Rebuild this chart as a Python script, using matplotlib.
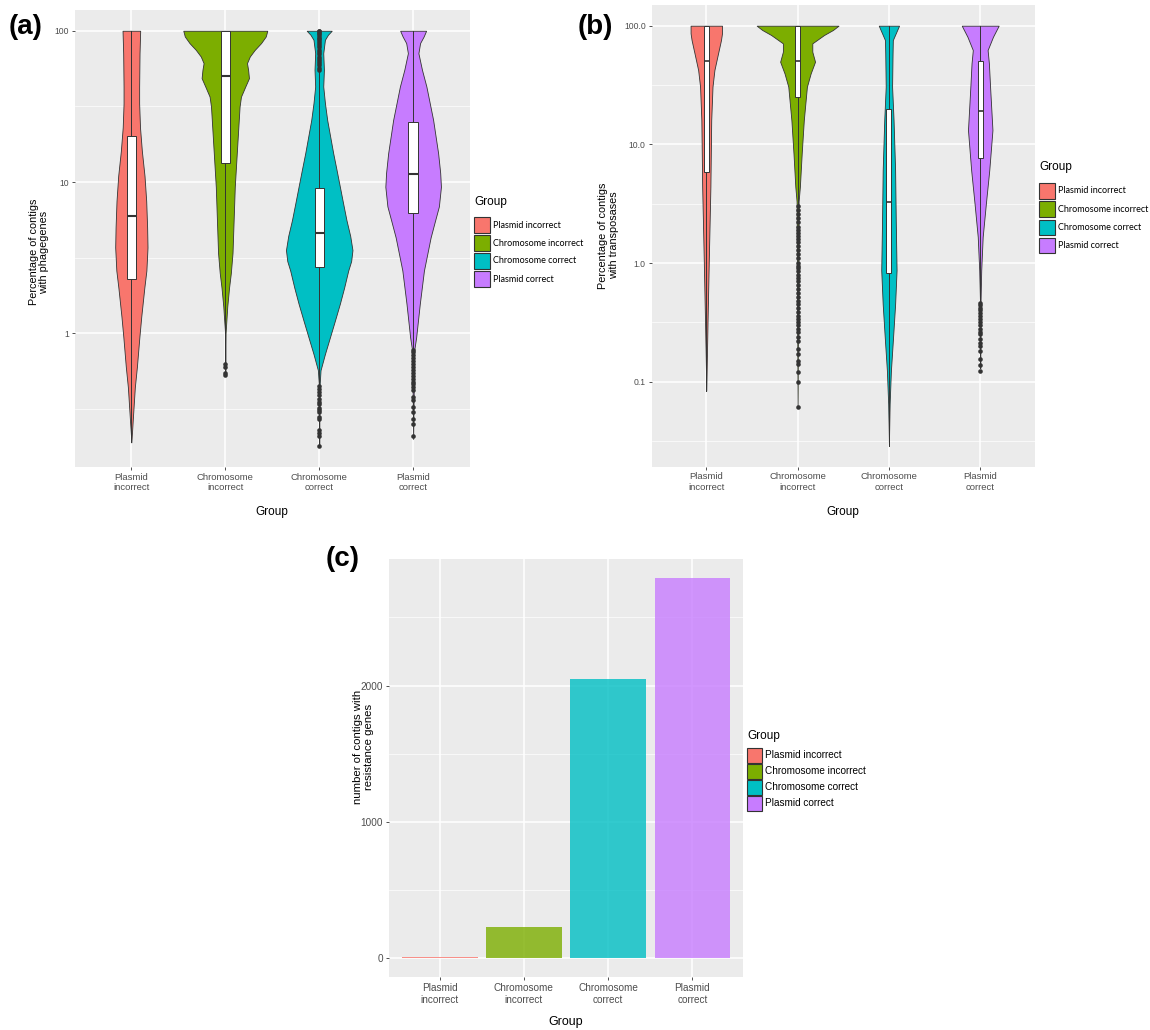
import numpy as np
import matplotlib
matplotlib.use('Agg')
import matplotlib.pyplot as plt
from matplotlib.patches import Rectangle
from matplotlib.ticker import FixedLocator, NullFormatter

plt.rcParams['font.family'] = ['Liberation Sans', 'DejaVu Sans']

# ---------------- data ----------------
groups = ['Plasmid incorrect', 'Chromosome incorrect', 'Chromosome correct', 'Plasmid correct']
tick_labels = ['Plasmid\nincorrect', 'Chromosome\nincorrect', 'Chromosome\ncorrect', 'Plasmid\ncorrect']
colors = ['#F8766D', '#7CAE00', '#00BFC4', '#C77CFF']

# (a) phage genes: violin outline (percentage, half width in group units)
phage_pi_y = [100, 71, 42.7, 33, 23, 16, 11, 7.5, 5, 3.7, 2.6, 2.0, 1.3, 0.94, 0.6, 0.44, 0.3, 0.19]
phage_pi_w = [0.094, 0.087, 0.083, 0.083, 0.092, 0.112, 0.140, 0.158, 0.168, 0.172, 0.160, 0.138, 0.106, 0.085, 0.059, 0.037, 0.020, 0.0]
phage_ci_y = [100, 91.7, 82.9, 74.8, 67.6, 61.1, 55.2, 48.6, 42.8, 36.7, 31.5, 20, 9.3, 3.4, 2.5, 2.0, 1.5, 1.2, 1.0, 0.53]
phage_ci_w = [0.447, 0.431, 0.381, 0.314, 0.261, 0.231, 0.243, 0.252, 0.213, 0.167, 0.152, 0.133, 0.101, 0.077, 0.059, 0.040, 0.021, 0.011, 0.003, 0.0]
phage_cc_y = [100, 94.1, 87.2, 71.1, 55.2, 42.8, 33.2, 25.7, 15.5, 12, 9.3, 7.2, 5.6, 4.4, 3.55, 3.0, 2.6, 2.0, 1.57, 1.2, 0.94, 0.73, 0.57, 0.44, 0.18]
phage_cc_w = [0.133, 0.093, 0.061, 0.043, 0.050, 0.043, 0.061, 0.085, 0.149, 0.185, 0.220, 0.255, 0.290, 0.330, 0.354, 0.340, 0.309, 0.265, 0.220, 0.165, 0.114, 0.061, 0.014, 0.003, 0.0]
phage_pc_y = [100, 91.7, 82.9, 71.1, 55.2, 42.8, 25.7, 15.5, 11.5, 9.3, 6.9, 5.4, 4.3, 2.6, 1.57, 0.94, 0.77, 0.2]
phage_pc_w = [0.138, 0.112, 0.074, 0.056, 0.094, 0.141, 0.213, 0.266, 0.288, 0.296, 0.274, 0.228, 0.186, 0.115, 0.071, 0.032, 0.011, 0.0]

# box stats: q1, median, q3, lower whisker, upper whisker
phage_box = [[2.3, 6.0, 20, 0.19, 100],
             [13.3, 50, 100, 0.68, 100],
             [2.76, 4.57, 9.1, 0.46, 54],
             [6.27, 11.3, 24.8, 0.79, 100]]
phage_out_ci = [0.63, 0.60, 0.55, 0.53]
phage_out_cc = [55, 57, 59, 61, 63, 65, 67, 70, 72, 75, 78, 80, 83, 86, 88, 90, 92, 95, 97, 99, 100,
                0.45, 0.43, 0.41, 0.39, 0.37, 0.35, 0.34, 0.32, 0.31, 0.30, 0.28, 0.27, 0.23, 0.22, 0.21, 0.18]
phage_out_pc = [0.78, 0.75, 0.72, 0.69, 0.66, 0.63, 0.60, 0.57, 0.55, 0.52, 0.50, 0.48, 0.46, 0.44,
                0.42, 0.38, 0.36, 0.325, 0.30, 0.27, 0.25, 0.21]

# (b) transposases
tn_pi_y = [100, 86.3, 75.7, 58.5, 42.3, 30.6, 16, 4.4, 1.2, 0.33, 0.084]
tn_pi_w = [0.172, 0.172, 0.161, 0.129, 0.089, 0.068, 0.054, 0.045, 0.029, 0.014, 0.0]
tn_ci_y = [100, 92, 83.5, 71, 60.4, 49.7, 39.6, 30.6, 16, 8.4, 4.4, 3.3, 0.061]
tn_ci_w = [0.448, 0.387, 0.290, 0.161, 0.161, 0.191, 0.143, 0.102, 0.068, 0.045, 0.025, 0.011, 0.0]
tn_cc_y = [100, 86.3, 75.7, 58.5, 30.6, 16, 6.05, 2.3, 0.87, 0.45, 0.24, 0.124, 0.065, 0.029]
tn_cc_w = [0.111, 0.075, 0.043, 0.040, 0.035, 0.051, 0.068, 0.075, 0.084, 0.068, 0.046, 0.022, 0.008, 0.0]
tn_pc_y = [100, 80.7, 62.3, 48.2, 30.6, 13.2, 6.05, 3.17, 1.66, 0.87, 0.45, 0.13]
tn_pc_w = [0.202, 0.140, 0.081, 0.095, 0.108, 0.134, 0.099, 0.062, 0.027, 0.011, 0.003, 0.0]

tn_box = [[5.8, 50, 100, 0.084, 100],
          [24.9, 50, 100, 3.1, 100],
          [0.83, 3.25, 19.7, 0.029, 100],
          [7.7, 19, 50, 0.47, 100]]
tn_out_ci = [3.0, 2.8, 2.6, 2.4, 2.2, 2.0, 1.9, 1.8, 1.7, 1.6, 1.5, 1.4, 1.3, 1.2, 1.1, 1.0, 0.95, 0.9,
             0.85, 0.8, 0.75, 0.7, 0.65, 0.6, 0.56, 0.52, 0.48, 0.45, 0.42, 0.39, 0.36, 0.34, 0.32, 0.3,
             0.28, 0.26, 0.24, 0.22, 0.19, 0.17, 0.15, 0.14, 0.12, 0.10, 0.061]
tn_out_pc = [0.46, 0.44, 0.42, 0.40, 0.38, 0.36, 0.34, 0.32, 0.30, 0.28, 0.26, 0.25, 0.23, 0.21, 0.20,
             0.18, 0.156, 0.137, 0.124]

# (c) resistance genes
res_counts = [8, 225, 2045, 2790]

W, H = 1150, 1030
fig = plt.figure(figsize=(W / 100, H / 100), dpi=100)
GRID_BG = '#EBEBEB'
DARK = '#333333'


def axes_px(left, top, right, bottom):
    return fig.add_axes([left / W, 1 - bottom / H, (right - left) / W, (bottom - top) / H])


def style_axes(ax, ysize, xsize):
    ax.set_facecolor(GRID_BG)
    for s in ax.spines.values():
        s.set_visible(False)
    ax.set_axisbelow(True)
    ax.grid(which='major', color='white', lw=1.1)
    ax.grid(which='minor', color='white', lw=0.5)
    ax.tick_params(which='major', length=2.2, width=0.6, color=DARK, labelcolor='#4D4D4D', pad=2)
    ax.tick_params(axis='y', labelsize=ysize)
    ax.tick_params(which='minor', length=0)
    ax.set_xticks(range(1, 5))
    ax.set_xticklabels(tick_labels, linespacing=1.25, fontsize=xsize)
    ax.set_xlim(0.4, 4.6)


def violin_panel(ax, prof_y, prof_w, boxes, outliers, box_w, med_lw):
    for i in range(4):
        x = i + 1
        ys = np.array(prof_y[i])
        ws = np.array(prof_w[i])
        ax.fill_betweenx(ys, x - ws, x + ws, facecolor=colors[i], edgecolor=DARK, lw=0.6, zorder=2)
        q1, med, q3, lo, hi = boxes[i]
        ax.plot([x, x], [lo, q1], color=DARK, lw=0.7, zorder=3)
        ax.plot([x, x], [q3, hi], color=DARK, lw=0.7, zorder=3)
        ax.add_patch(Rectangle((x - box_w / 2, q1), box_w, q3 - q1, facecolor='white',
                               edgecolor=DARK, lw=0.7, zorder=4))
        ax.plot([x - box_w / 2, x + box_w / 2], [med, med], color=DARK, lw=med_lw, zorder=5,
                solid_capstyle='butt')
        if outliers[i]:
            ax.plot(np.full(len(outliers[i]), x), outliers[i], 'o', color=DARK, ms=3.3, mew=0,
                    zorder=6)
    ax.set_yscale('log')
    all_vals = [v for p in prof_y for v in p] + [v for o in outliers for v in o]
    lo, hi = np.log10(min(all_vals)), np.log10(max(all_vals))
    pad = 0.05 * (hi - lo)
    ax.set_ylim(10 ** (lo - pad), 10 ** (hi + pad))


def legend_px(x0, y_title, top, size, pitch, fontsize, family):
    fig.text(x0 / W, 1 - y_title / H, 'Group', fontsize=8.5, ha='left', va='center')
    for i, (g, c) in enumerate(zip(groups, colors)):
        y = top + i * pitch
        fig.add_artist(Rectangle((x0 / W, 1 - (y + size) / H), size / W, size / H,
                                 facecolor=c, edgecolor=DARK, lw=0.8, transform=fig.transFigure))
        fig.text((x0 + size + 3) / W, 1 - (y + size / 2) / H, g, fontsize=fontsize,
                 family=family, ha='left', va='center')


# ---------------- (a) ----------------
ax_a = axes_px(75, 10, 469.5, 466.7)
style_axes(ax_a, 6.2, 6.8)
violin_panel(ax_a, [phage_pi_y, phage_ci_y, phage_cc_y, phage_pc_y],
             [phage_pi_w, phage_ci_w, phage_cc_w, phage_pc_w],
             phage_box, [[], phage_out_ci, phage_out_cc, phage_out_pc], 0.1, 1.5)
ax_a.yaxis.set_major_locator(FixedLocator([1, 10, 100]))
ax_a.yaxis.set_minor_locator(FixedLocator([10 ** -0.5, 10 ** 0.5, 10 ** 1.5]))
ax_a.yaxis.set_minor_formatter(NullFormatter())
ax_a.set_yticklabels(['1', '10', '100'])
ax_a.set_ylabel('Percentage of contigs\nwith phagegenes', fontsize=7.8, linespacing=1.1)
ax_a.yaxis.set_label_coords(-0.065, 0.47)
ax_a.set_xlabel('Group', fontsize=8.5)
ax_a.xaxis.set_label_coords(0.5, -0.085)
legend_px(474, 202, 217, 16, 18, 6.5, ['Lato', 'DejaVu Sans'])

# ---------------- (b) ----------------
ax_b = axes_px(651.5, 4.7, 1035, 466.5)
style_axes(ax_b, 6.2, 6.8)
violin_panel(ax_b, [tn_pi_y, tn_ci_y, tn_cc_y, tn_pc_y],
             [tn_pi_w, tn_ci_w, tn_cc_w, tn_pc_w],
             tn_box, [[], tn_out_ci, [], tn_out_pc], 0.055, 1.2)
ax_b.yaxis.set_major_locator(FixedLocator([0.1, 1, 10, 100]))
ax_b.yaxis.set_minor_locator(FixedLocator([10 ** -1.5, 10 ** -0.5, 10 ** 0.5, 10 ** 1.5]))
ax_b.yaxis.set_minor_formatter(NullFormatter())
ax_b.set_yticklabels(['0.1', '1.0', '10.0', '100.0'])
ax_b.set_ylabel('Percentage of contigs\nwith transposases', fontsize=7.8, linespacing=1.1)
ax_b.yaxis.set_label_coords(-0.085, 0.5)
ax_b.set_xlabel('Group', fontsize=8.5)
ax_b.xaxis.set_label_coords(0.5, -0.085)
legend_px(1039, 167, 183, 15.5, 18.3, 6.5, ['Lato', 'DejaVu Sans'])

# ---------------- (c) ----------------
ax_c = axes_px(389, 559, 743, 977)
style_axes(ax_c, 7.2, 7.2)
ax_c.bar(range(1, 5), res_counts, width=0.9, color=colors, alpha=0.8, zorder=2)
ymax = max(res_counts)
ax_c.set_ylim(-0.05 * ymax, 1.05 * ymax)
ax_c.set_yticks([0, 1000, 2000])
ax_c.set_yticks([500, 1500, 2500], minor=True)
ax_c.xaxis.grid(False, which='minor')
ax_c.set_ylabel('number of contigs with\nresistance genes', fontsize=8.2, linespacing=1.1)
ax_c.yaxis.set_label_coords(-0.042, 0.55)
ax_c.set_xlabel('Group', fontsize=9)
ax_c.xaxis.set_label_coords(0.5, -0.093)
legend_px(747, 736, 748, 15, 16, 7.2, ['Liberation Sans', 'DejaVu Sans'])

# panel tags
fig.text(25.5 / W, 1 - 27 / H, '(a)', fontsize=20, fontweight='bold', ha='center', va='center')
fig.text(595 / W, 1 - 27 / H, '(b)', fontsize=20, fontweight='bold', ha='center', va='center')
fig.text(343 / W, 1 - 559 / H, '(c)', fontsize=20, fontweight='bold', ha='center', va='center')

fig.savefig('out.png', dpi=100, facecolor='white')
